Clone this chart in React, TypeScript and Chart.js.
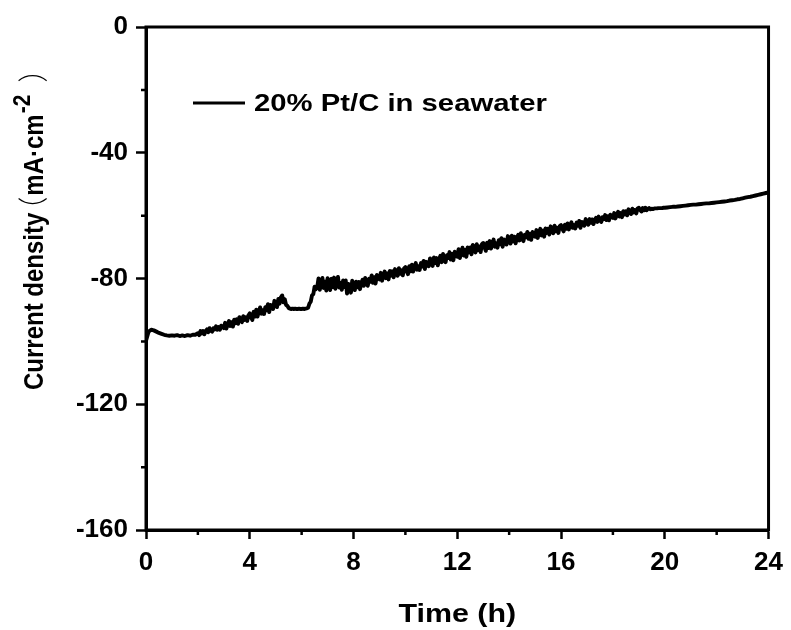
import React, { useEffect, useRef } from "react";
import { Chart, registerables } from "chart.js";

Chart.register(...registerables);

const SERIES_LABEL = "20% Pt/C in seawater";
const X_TITLE = "Time (h)";
const Y_TITLE_MAIN = "Current density";
const Y_TITLE_OPEN = "（";
const Y_TITLE_UNIT = "mA·cm";
const Y_TITLE_EXP = "-2";
const Y_TITLE_CLOSE = "）";
const X_MIN = 0;
const X_MAX = 24;
const X_STEP = 4;
const Y_MIN = -160;
const Y_MAX = 0;
const Y_STEP = 40;
const X_MINOR = [2, 6, 10, 14, 18, 22];
const Y_MINOR = [-20, -60, -100, -140];

// current density (mA·cm-2): one row per hour, samples evenly spaced inside the hour
const h00 = [-99.8, -96.9, -96.3, -96.5, -96.9, -97.3, -97.6, -97.9, -98.1, -98.2];
const h01 = [-98.1, -98.2, -98.0, -98.3, -98.1, -98.3, -98.0, -98.2, -97.9, -97.9];
const h02 = [-97.4, -98.0, -96.7, -97.5, -96.7, -97.7, -96.7, -96.2, -97.1, -95.8, -96.6, -96.9, -95.8, -96.2, -95.2, -96.3, -95.4, -96.3, -95.0, -95.4];
const h03 = [-95.8, -94.1, -95.9, -94.5, -93.5, -95.1, -93.9, -95.3, -93.1, -94.2, -93.0, -94.4, -92.3, -93.1, -93.9, -92.0, -93.2, -92.3, -93.5, -91.7];
const h04 = [-91.1, -92.3, -93.2, -90.6, -92.1, -89.9, -92.1, -90.4, -89.2, -91.2, -90.1, -91.3, -89.1, -90.1, -88.2, -90.7, -88.4, -88.6, -89.7, -87.1];
const h05 = [-87.9, -89.1, -86.5, -88.0, -86.0, -85.4, -87.6, -86.6, -88.4, -88.7, -89.4, -89.6, -89.7, -89.6, -89.7, -89.6, -89.7, -89.7, -89.6, -89.7];
const h06 = [-89.7, -89.6, -89.7, -89.6, -89.5, -89.3, -88.0, -87.4, -85.4, -85.0, -82.6, -83.4, -82.8, -80.0, -83.6, -81.4, -79.8, -83.0, -81.0, -83.8];
const h07 = [-79.9, -82.0, -83.7, -80.1, -82.7, -79.7, -83.3, -81.0, -79.5, -82.9, -81.4, -83.6, -80.6, -82.7, -80.6, -84.8, -81.7, -82.6, -84.5, -80.7];
const h08 = [-82.2, -83.7, -81.0, -82.8, -81.1, -83.4, -81.4, -80.4, -82.3, -79.8, -81.6, -82.3, -80.1, -81.0, -79.0, -81.4, -79.6, -81.6, -78.9, -79.9];
const h09 = [-80.3, -78.2, -80.7, -79.0, -77.8, -79.9, -78.4, -80.3, -77.6, -79.1, -77.7, -79.6, -77.0, -78.1, -79.1, -76.7, -78.5, -77.4, -79.0, -76.8];
const h10 = [-76.4, -77.7, -78.6, -76.1, -77.7, -75.6, -77.8, -76.2, -75.1, -77.2, -76.1, -77.3, -75.1, -76.2, -74.4, -77.0, -74.7, -75.0, -76.1, -73.6];
const h11 = [-74.5, -76.0, -73.3, -75.1, -73.5, -75.8, -73.8, -72.8, -74.8, -72.2, -74.1, -74.8, -72.6, -73.5, -71.6, -74.0, -72.2, -74.2, -71.5, -72.6];
const h12 = [-73.1, -70.7, -73.5, -71.6, -70.2, -72.7, -70.9, -73.1, -70.1, -71.7, -70.1, -72.3, -69.3, -70.6, -71.7, -69.1, -71.0, -69.8, -71.6, -69.1];
const h13 = [-68.7, -70.1, -71.2, -68.6, -70.3, -68.1, -70.5, -68.8, -67.6, -69.9, -68.8, -70.2, -67.8, -69.1, -67.2, -69.9, -67.6, -67.9, -69.2, -66.5];
const h14 = [-67.5, -68.9, -66.4, -68.2, -66.7, -68.8, -67.0, -66.1, -67.9, -65.6, -67.4, -68.1, -66.1, -66.9, -65.2, -67.4, -65.8, -67.7, -65.2, -66.2];
const h15 = [-66.7, -64.6, -67.1, -65.4, -64.2, -66.3, -64.8, -66.7, -64.1, -65.5, -64.2, -66.0, -63.4, -64.6, -65.6, -63.2, -65.0, -63.9, -65.5, -63.3];
const h16 = [-63.0, -64.2, -65.0, -62.9, -64.2, -62.5, -64.4, -63.0, -62.1, -63.9, -63.0, -64.1, -62.2, -63.2, -61.7, -63.9, -62.0, -62.2, -63.2, -61.1];
const h17 = [-61.9, -62.9, -61.1, -62.3, -61.2, -62.7, -61.4, -60.7, -62.0, -60.3, -61.5, -62.0, -60.5, -61.1, -59.8, -61.4, -60.2, -61.5, -59.7, -60.4];
const h18 = [-60.7, -59.2, -60.9, -59.7, -58.8, -60.3, -59.2, -60.5, -58.6, -59.6, -58.6, -59.9, -58.0, -58.8, -59.5, -57.8, -59.0, -58.2, -59.3, -57.7];
const h19 = [-57.5, -58.2, -58.7, -57.6, -58.3, -57.5, -58.3, -57.8, -57.6, -58.0, -57.8, -57.9, -57.7, -57.7, -57.7, -57.6, -57.6, -57.6, -57.6, -57.5];
const h20 = [-57.5, -57.4, -57.3, -57.2, -57.2, -57.1, -57.0, -56.9, -56.8, -56.7];
const h21 = [-56.6, -56.5, -56.5, -56.4, -56.3, -56.2, -56.1, -56.1, -56.0, -55.9];
const h22 = [-55.8, -55.7, -55.6, -55.5, -55.4, -55.2, -55.1, -55.0, -54.8, -54.7];
const h23 = [-54.5, -54.3, -54.1, -54.0, -53.8, -53.6, -53.4, -53.2, -53.0, -52.8];
const END_VALUE = -52.6;

const HOURS = [h00, h01, h02, h03, h04, h05, h06, h07, h08, h09, h10, h11, h12, h13, h14, h15, h16, h17, h18, h19, h20, h21, h22, h23];

const FONT = "'Liberation Sans', Arial, sans-serif";
const CJK_FONT = "'Noto Sans CJK SC', sans-serif";

function buildPoints() {
  const pts: { x: number; y: number }[] = [];
  HOURS.forEach((row, h) => {
    row.forEach((v, j) => pts.push({ x: h + j / row.length, y: v }));
  });
  pts.push({ x: HOURS.length, y: END_VALUE });
  return pts;
}

const framePlugin = {
  id: "frame",
  afterDraw(chart: any) {
    const { ctx, chartArea, scales } = chart;
    const { left, right, top, bottom } = chartArea;
    ctx.save();
    ctx.strokeStyle = "#000";
    ctx.lineWidth = 3;
    ctx.strokeRect(left, top, right - left, bottom - top);
    // minor ticks
    ctx.lineWidth = 2.5;
    ctx.beginPath();
    X_MINOR.forEach((v) => {
      const px = scales.x.getPixelForValue(v);
      ctx.moveTo(px, bottom);
      ctx.lineTo(px, bottom + 5);
    });
    Y_MINOR.forEach((v) => {
      const py = scales.y.getPixelForValue(v);
      ctx.moveTo(left, py);
      ctx.lineTo(left - 5, py);
    });
    ctx.stroke();

    // legend
    const ly = top + 76;
    const lx = left + 47;
    ctx.lineWidth = 3;
    ctx.beginPath();
    ctx.moveTo(lx, ly);
    ctx.lineTo(lx + 52, ly);
    ctx.stroke();
    ctx.fillStyle = "#000";
    ctx.save();
    ctx.font = `bold 24px ${FONT}`;
    ctx.textBaseline = "middle";
    ctx.textAlign = "left";
    ctx.translate(lx + 61, ly + 1);
    ctx.scale(1.22, 1);
    ctx.fillText(chart.data.datasets[0].label, 0, 0);
    ctx.restore();

    // x title
    ctx.save();
    ctx.font = `bold 26px ${FONT}`;
    ctx.textBaseline = "alphabetic";
    ctx.textAlign = "center";
    ctx.translate((left + right) / 2, 622);
    ctx.scale(1.17, 1);
    ctx.fillText(X_TITLE, 0, 0);
    ctx.restore();

    // y title (rotated)
    ctx.save();
    ctx.textBaseline = "alphabetic";
    ctx.textAlign = "left";
    ctx.translate(43, 390);
    ctx.rotate(-Math.PI / 2);
    ctx.scale(1, 1.17);
    ctx.font = `bold 24px ${FONT}`;
    ctx.fillText(Y_TITLE_MAIN, 0, 0);
    let pos = ctx.measureText(Y_TITLE_MAIN).width;
    ctx.font = `300 26px ${CJK_FONT}`;
    ctx.fillText(Y_TITLE_OPEN, pos - 10, 1);
    pos += 17;
    ctx.font = `bold 24px ${FONT}`;
    ctx.fillText(Y_TITLE_UNIT, pos, 0);
    pos += ctx.measureText(Y_TITLE_UNIT).width + 1;
    ctx.font = `bold 21px ${FONT}`;
    ctx.fillText(Y_TITLE_EXP, pos, -11);
    pos += ctx.measureText(Y_TITLE_EXP).width + 12;
    ctx.font = `300 26px ${CJK_FONT}`;
    ctx.fillText(Y_TITLE_CLOSE, pos, 1);
    ctx.restore();

    ctx.restore();
  },
};

export default function App() {
  const ref = useRef<HTMLCanvasElement | null>(null);
  useEffect(() => {
    if (!ref.current) return;
    const chart = new Chart(ref.current, {
      type: "line",
      data: {
        datasets: [
          {
            label: SERIES_LABEL,
            data: buildPoints(),
            borderColor: "#000",
            backgroundColor: "#000",
            borderWidth: 3.9,
            borderJoinStyle: "round",
            pointRadius: 0,
            tension: 0,
          },
        ],
      },
      options: {
        animation: false,
        responsive: false,
        layout: { padding: { top: 27, right: 22, left: 0, bottom: 0 } },
        plugins: { legend: { display: false }, tooltip: { enabled: false } },
        scales: {
          x: {
            type: "linear",
            min: X_MIN,
            max: X_MAX,
            afterFit: (s: any) => {
              s.height = 100;
            },
            ticks: {
              stepSize: X_STEP,
              color: "#000",
              padding: 8,
              maxRotation: 0,
              font: { family: FONT, size: 26, weight: "bold" },
            },
            grid: { drawOnChartArea: false, drawTicks: true, tickLength: 9, tickWidth: 2.5, color: "#000" },
            border: { display: true, width: 3, color: "#000" },
            title: { display: false },
          },
          y: {
            type: "linear",
            min: Y_MIN,
            max: Y_MAX,
            afterFit: (s: any) => {
              s.width = 146;
            },
            ticks: {
              stepSize: Y_STEP,
              color: "#000",
              padding: 8,
              font: { family: FONT, size: 26, weight: "bold" },
            },
            grid: { drawOnChartArea: false, drawTicks: true, tickLength: 10, tickWidth: 2.5, color: "#000" },
            border: { display: true, width: 3, color: "#000" },
            title: { display: false },
          },
        },
      },
      plugins: [framePlugin],
    } as any);
    return () => chart.destroy();
  }, []);
  return (
    <div style={{ position: "absolute", left: 0, top: 0, width: 791, height: 630, background: "#fff" }}>
      <canvas ref={ref} width={791} height={630} />
    </div>
  );
}
